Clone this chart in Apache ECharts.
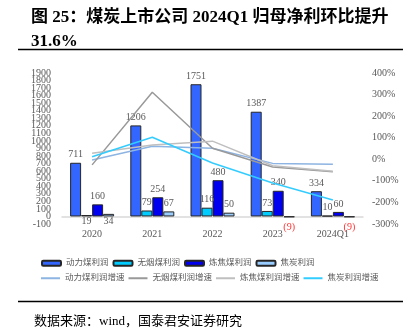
<!DOCTYPE html>
<html>
<head>
<meta charset="utf-8">
<script src="https://cdn.jsdelivr.net/npm/echarts@6/dist/echarts.min.js"></script>
<style>
html,body{margin:0;padding:0;background:#fff;}
#c{width:410px;height:335px;}
</style>
</head>
<body>
<div id="c"></div>
<script>
const categories = ['2020', '2021', '2022', '2023', '2024Q1'];
const dongli = [711, 1206, 1751, 1387, 334];
const wuyan = [19, 79, 116, 73, 10];
const lianjiao = [160, 254, 480, 340, 60];
const jiaotan = [34, 67, 50, -9, -9];
const dongliGrowth = [-3, 60, 51, -19, -23];
const wuyanGrowth = [-26, 311, 51, -36, -58];
const lianjiaoGrowth = [28, 66, 84, -30, -55];
const jiaotanGrowth = [12, 102, -17, -110, -189];
const leftTickLabels = [-100, 0, 100, 200, 300, 400, 500, 600, 700, 800, 900, 1000,
  1100, 1200, 1300, 1400, 1500, 1600, 1700, 1800, 1900];
const rightTickLabels = [-300, -200, -100, 0, 100, 200, 300, 400];

const serif = '"Liberation Serif", "Noto Sans CJK SC", serif';
const cjk = '"Liberation Serif", "Noto Sans CJK SC", sans-serif';
const labelGray = '#595959';

const leftMin = leftTickLabels[0];
const leftMax = leftTickLabels[leftTickLabels.length - 1];
// split the crowded left labels over two stacked axes so none get auto-hidden
const leftLabelsA = leftTickLabels.filter((v, i) => i % 2 === 0);
const leftLabelsB = leftTickLabels.filter((v, i) => i % 2 === 1);

function fmt(v) { return v < 0 ? '(' + Math.abs(v) + ')' : String(v); }

function barData(arr, belowIdx) {
  return arr.map((v, i) => {
    if (v < 0) {
      return { value: v, label: { position: 'bottom', distance: 5, color: '#FF3333' } };
    }
    if (belowIdx.indexOf(i) >= 0) {
      return { value: v, label: { position: 'bottom', distance: 0 } };
    }
    return v;
  });
}

function barSeries(name, arr, color, belowIdx) {
  return {
    name: name, type: 'bar', yAxisIndex: 0,
    data: barData(arr, belowIdx || []),
    barWidth: 11, barGap: '0%',
    itemStyle: { color: color, borderColor: '#262626', borderWidth: 1 },
    label: {
      show: true, position: 'top', distance: 3,
      fontFamily: serif, fontSize: 10, color: labelGray,
      formatter: p => fmt(p.value)
    }
  };
}

function lineSeries(name, arr, color) {
  return {
    name: name, type: 'line', yAxisIndex: 1, data: arr,
    symbol: 'none', lineStyle: { color: color, width: 1.5 },
    itemStyle: { color: color }, z: 3
  };
}

function leftAxis(labels) {
  return {
    type: 'value', min: leftMin, max: leftMax, interval: 100, position: 'left',
    splitLine: { show: false }, axisLine: { show: false }, axisTick: { show: false },
    axisLabel: {
      margin: 11, fontFamily: serif, fontSize: 10, color: labelGray,
      customValues: labels, showMinLabel: true, showMaxLabel: true,
      formatter: v => String(v)
    }
  };
}

const chart = echarts.init(document.getElementById('c'));
chart.setOption({
  backgroundColor: '#fff',
  animation: false,
  title: [
    {
      text: '图 25：煤炭上市公司 2024Q1 归母净利环比提升\n31.6%',
      left: 26, top: 1,
      textStyle: { fontFamily: cjk, fontWeight: 'bold', fontSize: 17, lineHeight: 24, color: '#000' }
    },
    {
      text: '数据来源：wind，国泰君安证券研究',
      left: 29, top: 309,
      textStyle: { fontFamily: cjk, fontWeight: 'normal', fontSize: 13, lineHeight: 16, color: '#000' }
    }
  ],
  graphic: [
    { type: 'line', shape: { x1: 18, y1: 49.5, x2: 403, y2: 49.5 }, style: { stroke: '#000', lineWidth: 1.5 } },
    { type: 'line', shape: { x1: 18, y1: 301.5, x2: 403, y2: 301.5 }, style: { stroke: '#000', lineWidth: 1.5 } }
  ],
  grid: { left: 62, right: 47, top: 73, bottom: 111 },
  legend: [
    {
      data: ['动力煤利润', '无烟煤利润', '炼焦煤利润', '焦炭利润'],
      left: 36, top: 254, itemWidth: 19, itemHeight: 5, itemGap: 4,
      textStyle: { width: 60, fontSize: 8.5, color: labelGray, fontFamily: cjk }
    },
    {
      data: ['动力煤利润增速', '无烟煤利润增速', '炼焦煤利润增速', '焦炭利润增速'],
      left: 36, top: 269, itemWidth: 19, itemHeight: 2, itemGap: 4, icon: 'rect',
      textStyle: { width: 60, fontSize: 8.5, color: labelGray, fontFamily: cjk }
    }
  ],
  xAxis: {
    type: 'category', data: categories,
    axisLine: { onZero: true, lineStyle: { color: '#D9D9D9', width: 1.5 } },
    axisTick: { show: false },
    axisLabel: { margin: 5, fontFamily: serif, fontSize: 10, color: labelGray }
  },
  yAxis: [
    leftAxis(leftLabelsA),
    {
      type: 'value', min: rightTickLabels[0], max: rightTickLabels[rightTickLabels.length - 1], interval: 100,
      position: 'right',
      splitLine: { show: false }, axisLine: { show: false }, axisTick: { show: false },
      axisLabel: {
        margin: 9, fontFamily: serif, fontSize: 10, color: labelGray,
        customValues: rightTickLabels,
        formatter: v => v + '%'
      }
    },
    leftAxis(leftLabelsB)
  ],
  series: [
    barSeries('动力煤利润', dongli, '#3366FF'),
    barSeries('无烟煤利润', wuyan, '#00CCFF', [0]),
    barSeries('炼焦煤利润', lianjiao, '#0000EE'),
    barSeries('焦炭利润', jiaotan, '#99CCFF', [0]),
    lineSeries('动力煤利润增速', dongliGrowth, '#8DB4E2'),
    lineSeries('无烟煤利润增速', wuyanGrowth, '#999999'),
    lineSeries('炼焦煤利润增速', lianjiaoGrowth, '#BFBFBF'),
    lineSeries('焦炭利润增速', jiaotanGrowth, '#33CCFF')
  ]
});
</script>
</body>
</html>
